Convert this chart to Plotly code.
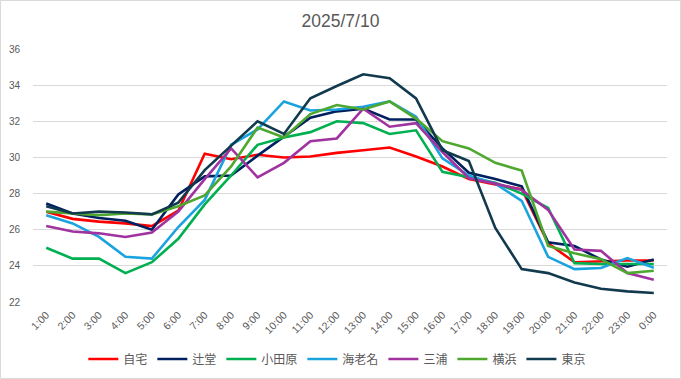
import plotly.graph_objects as go

hours = ["1:00", "2:00", "3:00", "4:00", "5:00", "6:00", "7:00", "8:00", "9:00", "10:00",
         "11:00", "12:00", "13:00", "14:00", "15:00", "16:00", "17:00", "18:00", "19:00",
         "20:00", "21:00", "22:00", "23:00", "0:00"]

jitaku = [27.0, 26.6, 26.45, 26.35, 26.2, 27.05, 30.2, 29.9, 30.15, 30.0, 30.05, 30.25,
          30.4, 30.55, 30.05, 29.5, 28.8, 28.5, 28.25, 25.25, 24.2, 24.25, 24.3, 24.3]
tsujido = [27.45, 26.9, 26.65, 26.5, 26.0, 27.95, 28.95, 29.0, 30.1, 31.15, 32.2, 32.55,
           32.7, 32.1, 32.1, 30.5, 29.15, 28.8, 28.4, 25.3, 25.1, 24.35, 23.95, 24.35]
odawara = [25.0, 24.4, 24.4, 23.6, 24.2, 25.5, 27.4, 29.0, 30.7, 31.1, 31.4, 32.0,
           31.9, 31.3, 31.5, 29.2, 28.9, 28.6, 28.0, 27.2, 24.15, 24.1, 24.1, 24.1]
ebina = [26.8, 26.35, 25.6, 24.5, 24.4, 26.15, 27.65, 30.7, 31.55, 33.1, 32.6, 32.65,
         32.8, 33.1, 32.25, 29.95, 29.0, 28.55, 27.6, 24.5, 23.82, 23.88, 24.43, 23.9]
miura = [26.2, 25.9, 25.8, 25.6, 25.85, 27.0, 28.8, 30.5, 28.9, 29.7, 30.9, 31.05,
         32.7, 31.7, 31.9, 30.3, 28.85, 28.55, 28.2, 27.1, 24.9, 24.83, 23.6, 23.23]
yokohama = [27.0, 26.9, 26.8, 26.9, 26.85, 27.3, 27.9, 29.5, 31.65, 31.1, 32.4, 32.9,
            32.65, 33.1, 32.15, 30.9, 30.5, 29.7, 29.27, 25.1, 24.7, 24.37, 23.6, 23.73]
tokyo = [27.3, 26.9, 27.0, 26.95, 26.85, 27.5, 29.3, 30.65, 32.0, 31.3, 33.27, 33.95,
         34.6, 34.38, 33.27, 30.4, 29.8, 26.1, 23.82, 23.6, 23.08, 22.73, 22.59, 22.5]

series_names = ["自宅", "辻堂", "小田原", "海老名", "三浦", "横浜", "東京"]
series_values = [jitaku, tsujido, odawara, ebina, miura, yokohama, tokyo]
series_colors = ["#FF0000", "#002060", "#00B050", "#1AA3DF", "#A0339F", "#4EA72E", "#123A4E"]

FONT = "Liberation Sans, Noto Sans CJK JP, sans-serif"
GREY = "#595959"

fig = go.Figure()
for name, vals, col in zip(series_names, series_values, series_colors):
    fig.add_trace(go.Scatter(x=hours, y=vals, name=name, mode="lines",
                             line=dict(color=col, width=2.6)))

W, H = 681, 379
ml, mr, mt, mb = 33, 14, 49, 77
pw, ph = W - ml - mr, H - mt - mb

fig.update_layout(
    width=W, height=H,
    margin=dict(l=ml, r=mr, t=mt, b=mb, pad=0, autoexpand=False),
    paper_bgcolor="white", plot_bgcolor="white",
    font=dict(family=FONT, color=GREY, size=11),
    title=dict(text="2025/7/10", x=0.5, xanchor="center", xref="container",
               y=1 - 21 / H, yanchor="middle", yref="container",
               font=dict(size=17.5, color=GREY, family=FONT)),
    showlegend=True,
    legend=dict(orientation="h", x=0.48, xanchor="center", y=(ph - (359 - mt)) / ph,
                yanchor="middle", font=dict(size=12, color=GREY, family=FONT),
                itemwidth=30, tracegroupgap=0, bgcolor="rgba(0,0,0,0)"),
    xaxis=dict(type="category", range=[-0.5, 23.5], showgrid=False, zeroline=False,
               showline=False, tickangle=-45, ticks="", tickfont=dict(size=10.5, color=GREY),
               ticklabelstandoff=4, automargin=False),
    yaxis=dict(range=[22, 36], dtick=2, tick0=22, showgrid=True, gridcolor="#D9D9D9",
               gridwidth=1, zeroline=False, showline=False, ticks="",
               tickfont=dict(size=10, color=GREY), ticklabelstandoff=12, automargin=False),
    shapes=[dict(type="rect", xref="paper", yref="paper",
                 x0=(-ml + 0.5) / pw, x1=1 + (mr - 0.5) / pw,
                 y0=(-mb + 0.5) / ph, y1=1 + (mt - 0.5) / ph,
                 line=dict(color="#D9D9D9", width=1), layer="below")],
)

fig.write_html("out.html", config={"displayModeBar": False},
               post_script="document.body.style.margin='0';document.body.style.overflow='hidden';")
